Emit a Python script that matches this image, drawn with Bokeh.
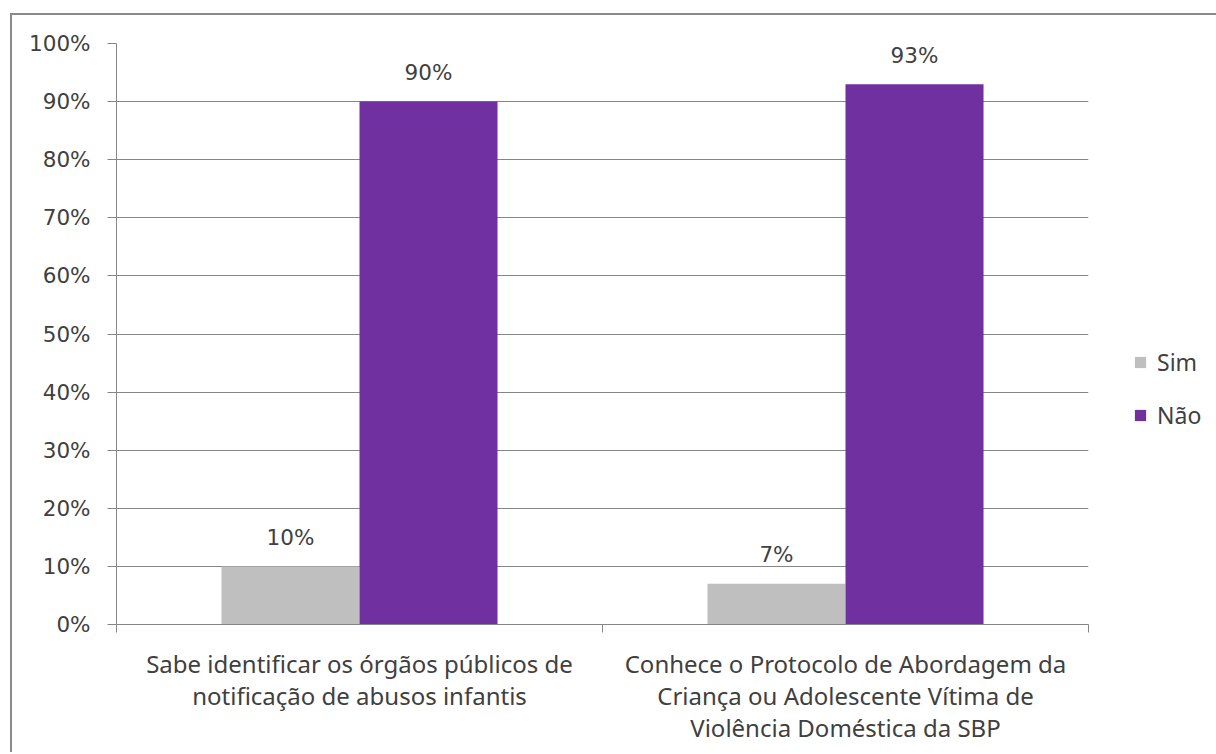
from bokeh.plotting import figure
from bokeh.models import (Range1d, FixedTicker, PrintfTickFormatter, Legend, LegendItem,
                          ColumnDataSource)
from bokeh.core.properties import value
from bokeh.embed import file_html
from bokeh.resources import INLINE
import numpy as np

# Survey answers (percent of respondents)
categories = [
    "Sabe identificar os órgãos públicos de\nnotificação de abusos infantis",
    "Conhece o Protocolo de Abordagem da\nCriança ou Adolescente Vítima de\nViolência Doméstica da SBP",
]
sim = [10, 7]
nao = [90, 93]
series_names = ["Sim", "Não"]
series_colors = ["#BFBFBF", "#7030A0"]
y_ticks = list(range(0, 101, 10))

BAR_W = 0.284
TEXT = "#404040"
AXIS_GRAY = "#868686"

centers = np.arange(len(categories)) + 0.5

p = figure(
    frame_width=972, frame_height=581,
    min_border_left=104, min_border_right=10, min_border_top=28, min_border_bottom=128,
    x_range=Range1d(0, len(categories)), y_range=Range1d(0, 100),
    output_backend="svg", toolbar_location=None,
)
p.margin = (13, 0, 0, 10)
p.styles = {"border-left": "2px solid #8a8a8a", "border-top": "2px solid #8a8a8a"}
p.outline_line_color = None
p.background_fill_color = "white"
p.border_fill_color = "white"

src_sim = ColumnDataSource(dict(x=centers - BAR_W / 2, top=sim, lab=[f"{v}%" for v in sim]))
src_nao = ColumnDataSource(dict(x=centers + BAR_W / 2, top=nao, lab=[f"{v}%" for v in nao]))

r_sim = p.vbar(x="x", top="top", width=BAR_W, source=src_sim,
               fill_color=series_colors[0], line_color=None)
r_nao = p.vbar(x="x", top="top", width=BAR_W, source=src_nao,
               fill_color=series_colors[1], line_color=None)

for src in (src_sim, src_nao):
    p.text(x="x", y="top", text="lab", source=src, text_align="center",
           text_baseline="middle", y_offset=-29, text_color=TEXT,
           text_font=value("DejaVu Sans"), text_font_size="21.5px")

# y axis
p.yaxis.ticker = FixedTicker(ticks=y_ticks)
p.yaxis.formatter = PrintfTickFormatter(format="%d%%")
p.yaxis.axis_line_color = AXIS_GRAY
p.yaxis.major_tick_line_color = AXIS_GRAY
p.yaxis.major_tick_out = 9
p.yaxis.major_tick_in = 0
p.yaxis.minor_tick_line_color = None
p.yaxis.major_label_standoff = 17
p.yaxis.major_label_text_font = "DejaVu Sans"
p.yaxis.major_label_text_font_size = "21.5px"
p.yaxis.major_label_text_color = TEXT

# x axis: labels at category centres, tick marks at category boundaries
p.xaxis.ticker = FixedTicker(ticks=list(centers),
                             minor_ticks=list(range(len(categories) + 1)))
p.xaxis.major_label_overrides = {float(c): lab for c, lab in zip(centers, categories)}
p.xaxis.axis_line_color = AXIS_GRAY
p.xaxis.major_tick_line_color = None
p.xaxis.minor_tick_line_color = AXIS_GRAY
p.xaxis.minor_tick_out = 8
p.xaxis.minor_tick_in = 0
p.xaxis.major_label_standoff = 14
p.xaxis.major_label_text_font = "Noto Sans"
p.xaxis.major_label_text_font_size = "24px"
p.xaxis.major_label_text_color = TEXT
p.xaxis.major_label_text_line_height = 0.98

p.xgrid.grid_line_color = None
p.ygrid.ticker = FixedTicker(ticks=y_ticks)
p.ygrid.grid_line_color = AXIS_GRAY

legend = Legend(
    items=[LegendItem(label=series_names[0], renderers=[r_sim]),
           LegendItem(label=series_names[1], renderers=[r_nao])],
    location=(45, 193), orientation="vertical",
    glyph_width=14, glyph_height=14, label_height=14, spacing=21,
    label_standoff=10, padding=0, margin=0,
    border_line_color=None, background_fill_alpha=0,
    label_text_font="Noto Sans", label_text_font_size="23px", label_text_color=TEXT,
)
p.add_layout(legend, "right")

open("out.html", "w").write(file_html(p, INLINE))
